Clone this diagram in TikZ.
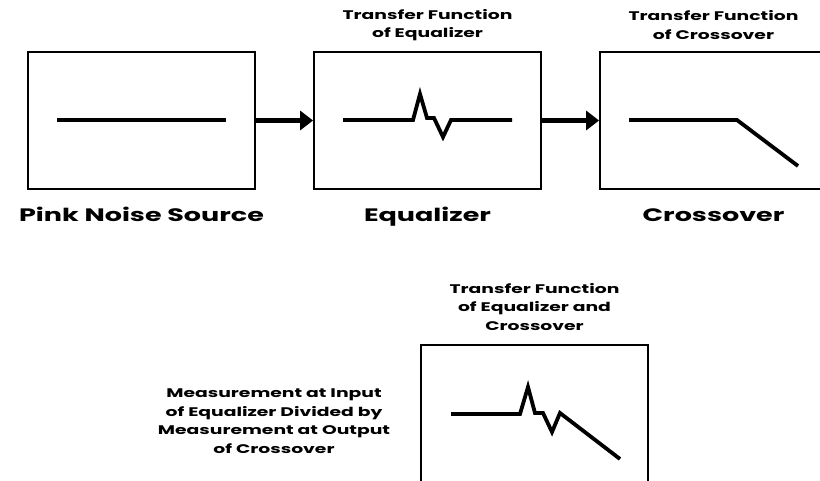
\documentclass[tikz,border=0pt]{standalone}
\usepackage{fontspec}
\setmainfont{Poppins}[FakeStretch=1.5]
\usetikzlibrary{arrows.meta,positioning}

\begin{document}
\begin{tikzpicture}[x=1pt,y=-1pt,
    box/.style={draw,line width=1.8pt,minimum width=227pt,minimum height=137pt,inner sep=0pt},
    trace/.style={line width=3.8pt,line join=miter},
    flow/.style={line width=4.5pt,-{Triangle[length=13pt,width=19pt]}},
    tftext/.style={font=\bfseries\fontsize{12.5}{18.5}\selectfont,align=center},
    boxname/.style={font=\bfseries\fontsize{18}{20}\selectfont,anchor=base}]
  \useasboundingbox (0,0) rectangle (820,480);
  \clip (0,0) rectangle (820,480);
  % the four boxes
  \node[box] (src) at (141.5,120.5) {};
  \node[box] (eq) at (427.5,120.5) {};
  \node[box] (xo) at (713.5,120.5) {};
  \node[box] (both) at (534.5,413.5) {};
  \draw[flow] (src) -- (eq);
  \draw[flow] (eq) -- (xo);
  % curves
  \draw[trace] (57,120)--(226,120);
  \draw[trace] (343,120)--(413,120)--(420,94)--(427,118)--(434,118)
    --(443,137)--(451,120)--(512,120);
  \draw[trace] (629,120)--(737,120)--(798,166);
  \draw[trace] (451,414)--(520,414)--(528,387)--(535,413)--(543,413)
    --(552,432)--(560,413)--(620,459);
  % labels
  \node[boxname] (srcname) at (141.5,221) {Pink Noise Source};
  \node[boxname] (eqname) at (427.5,221) {Equalizer};
  \node[boxname] (xoname) at (713.5,221) {Crossover};
  \node[tftext] (eqtf) at (427.5,25) {Transfer Function\\of Equalizer};
  \node[tftext] (xotf) at (713.5,25) {Transfer Function\\of Crossover};
  \node[tftext] (bothtf) at (534.5,307) {Transfer Function\\of Equalizer and\\Crossover};
  \node[tftext] (ratio) at (274,421) {Measurement at Input\\of Equalizer Divided by\\Measurement at Output\\of Crossover};
\end{tikzpicture}
\end{document}
